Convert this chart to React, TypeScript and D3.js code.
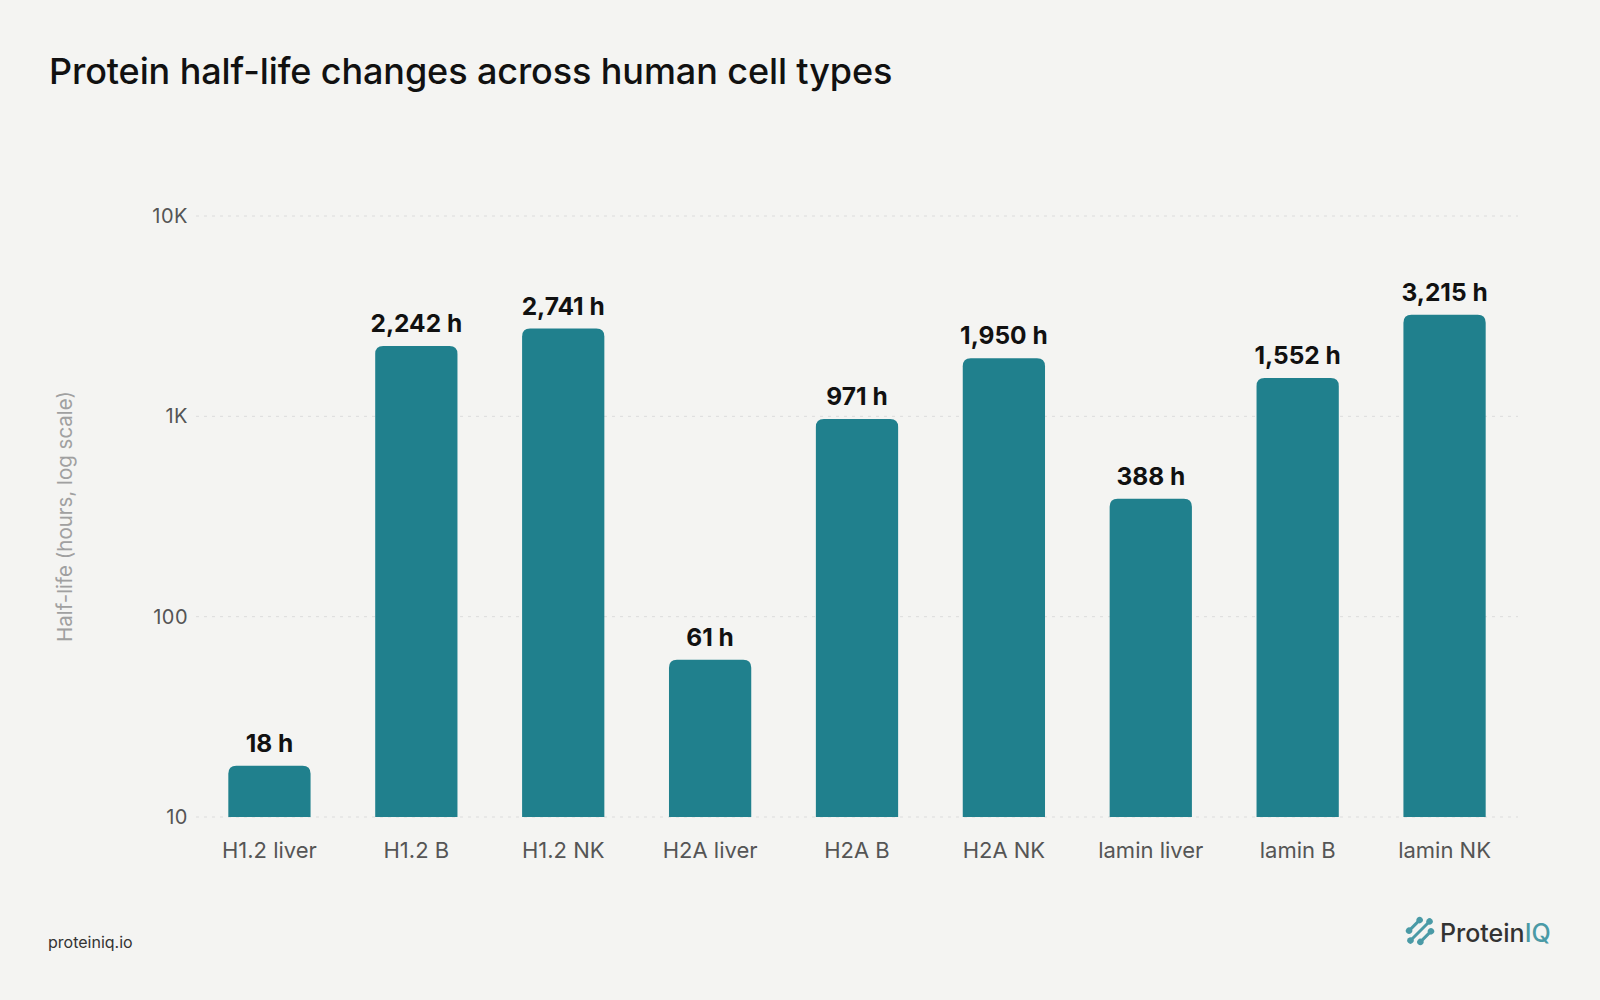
import { FC, useMemo } from 'react';
import * as d3 from 'd3';

const categories = ['H1.2 liver', 'H1.2 B', 'H1.2 NK', 'H2A liver', 'H2A B', 'H2A NK', 'lamin liver', 'lamin B', 'lamin NK'];
const halfLives = [18, 2242, 2741, 61, 971, 1950, 388, 1552, 3215];
const yTicks = [10, 100, 1000, 10000];
const yTickLabels = ['10', '100', '1K', '10K'];

const WIDTH = 1600;
const HEIGHT = 1000;
const MARGIN = { top: 216, right: 82, bottom: 183, left: 196 };
const BAR_COLOR = '#20808d';
const LOGO_COLOR = '#4a9aa6';
const FONT = 'Inter, "Noto Sans", sans-serif';

// bar with rounded top corners only
const barPath = (x: number, y: number, w: number, h: number, r: number) => {
  const rr = Math.min(r, h, w / 2);
  return `M${x},${y + h}V${y + rr}Q${x},${y} ${x + rr},${y}H${x + w - rr}Q${x + w},${y} ${x + w},${y + rr}V${y + h}Z`;
};

// logo strokes: offset across the stroke, half length
const logoStrokes = [
  { o: -8, l: 6 },
  { o: 0, l: 12 },
  { o: 8, l: 6 },
];

const App: FC = () => {
  const boundsWidth = WIDTH - MARGIN.left - MARGIN.right;
  const boundsHeight = HEIGHT - MARGIN.top - MARGIN.bottom;

  const xScale = useMemo(
    () => d3.scaleBand().domain(categories).range([0, boundsWidth]).paddingInner(0.44).paddingOuter(0.22),
    [boundsWidth]
  );
  const yScale = useMemo(
    () => d3.scaleLog().domain([10, 10000]).range([boundsHeight, 0]),
    [boundsHeight]
  );
  const fmt = d3.format(',');

  return (
    <svg width={WIDTH} height={HEIGHT} style={{ position: 'absolute', left: 0, top: 0, background: '#f4f4f2' }}>
      <rect width={WIDTH} height={HEIGHT} fill="#f4f4f2" />
      <text x={49} y={84} fontFamily={FONT} fontSize={36} fontWeight={500} fill="#111" letterSpacing={-0.1}>
        Protein half-life changes across human cell types
      </text>

      <g transform={`translate(${MARGIN.left},${MARGIN.top})`}>
        {yTicks.map((t, i) => (
          <g key={t} transform={`translate(0,${yScale(t)})`}>
            <line x1={0} x2={boundsWidth} stroke="#dcdcdc" strokeWidth={1} strokeDasharray="3,5" />
            <text x={-8} dy="0.35em" textAnchor="end" fontFamily={FONT} fontSize={20} fill="#555" letterSpacing={0.5}>
              {yTickLabels[i]}
            </text>
          </g>
        ))}

        {categories.map((c, i) => {
          const x = xScale(c) ?? 0;
          const y = yScale(halfLives[i]);
          const w = xScale.bandwidth();
          return (
            <g key={c}>
              <path d={barPath(x, y, w, boundsHeight - y, 8)} fill={BAR_COLOR} />
              <text x={x + w / 2} y={y - 14} textAnchor="middle" fontFamily={FONT} fontSize={24.5} fontWeight={700} fill="#111">
                {`${fmt(halfLives[i])} h`}
              </text>
              <text x={x + w / 2} y={boundsHeight + 41} textAnchor="middle" fontFamily={FONT} fontSize={22} fill="#555">
                {c}
              </text>
            </g>
          );
        })}
      </g>

      <text
        transform={`translate(72,${MARGIN.top + boundsHeight / 2}) rotate(-90)`}
        textAnchor="middle"
        fontFamily={FONT}
        fontSize={20.5}
        fill="#a0a0a0"
      >
        Half-life (hours, log scale)
      </text>

      <text x={48} y={948} fontFamily={FONT} fontSize={16} fill="#333">proteiniq.io</text>

      <g transform="translate(1420,931)">
        {logoStrokes.map(({ o, l }) => (
          <g key={o} transform={`rotate(-45) translate(0,${o})`}>
            <line x1={-l} x2={l} y1={0} y2={0} stroke={LOGO_COLOR} strokeWidth={3} strokeLinecap="round" />
            <circle cx={l + 1.5} cy={0} r={3.2} fill={LOGO_COLOR} />
            <circle cx={-l - 1.5} cy={0} r={3.2} fill={LOGO_COLOR} />
          </g>
        ))}
        <text x={20} y={11} fontFamily={FONT} fontSize={25} fontWeight={500} fill="#333">
          Protein<tspan fill={LOGO_COLOR}>IQ</tspan>
        </text>
      </g>
    </svg>
  );
};

export default App;
